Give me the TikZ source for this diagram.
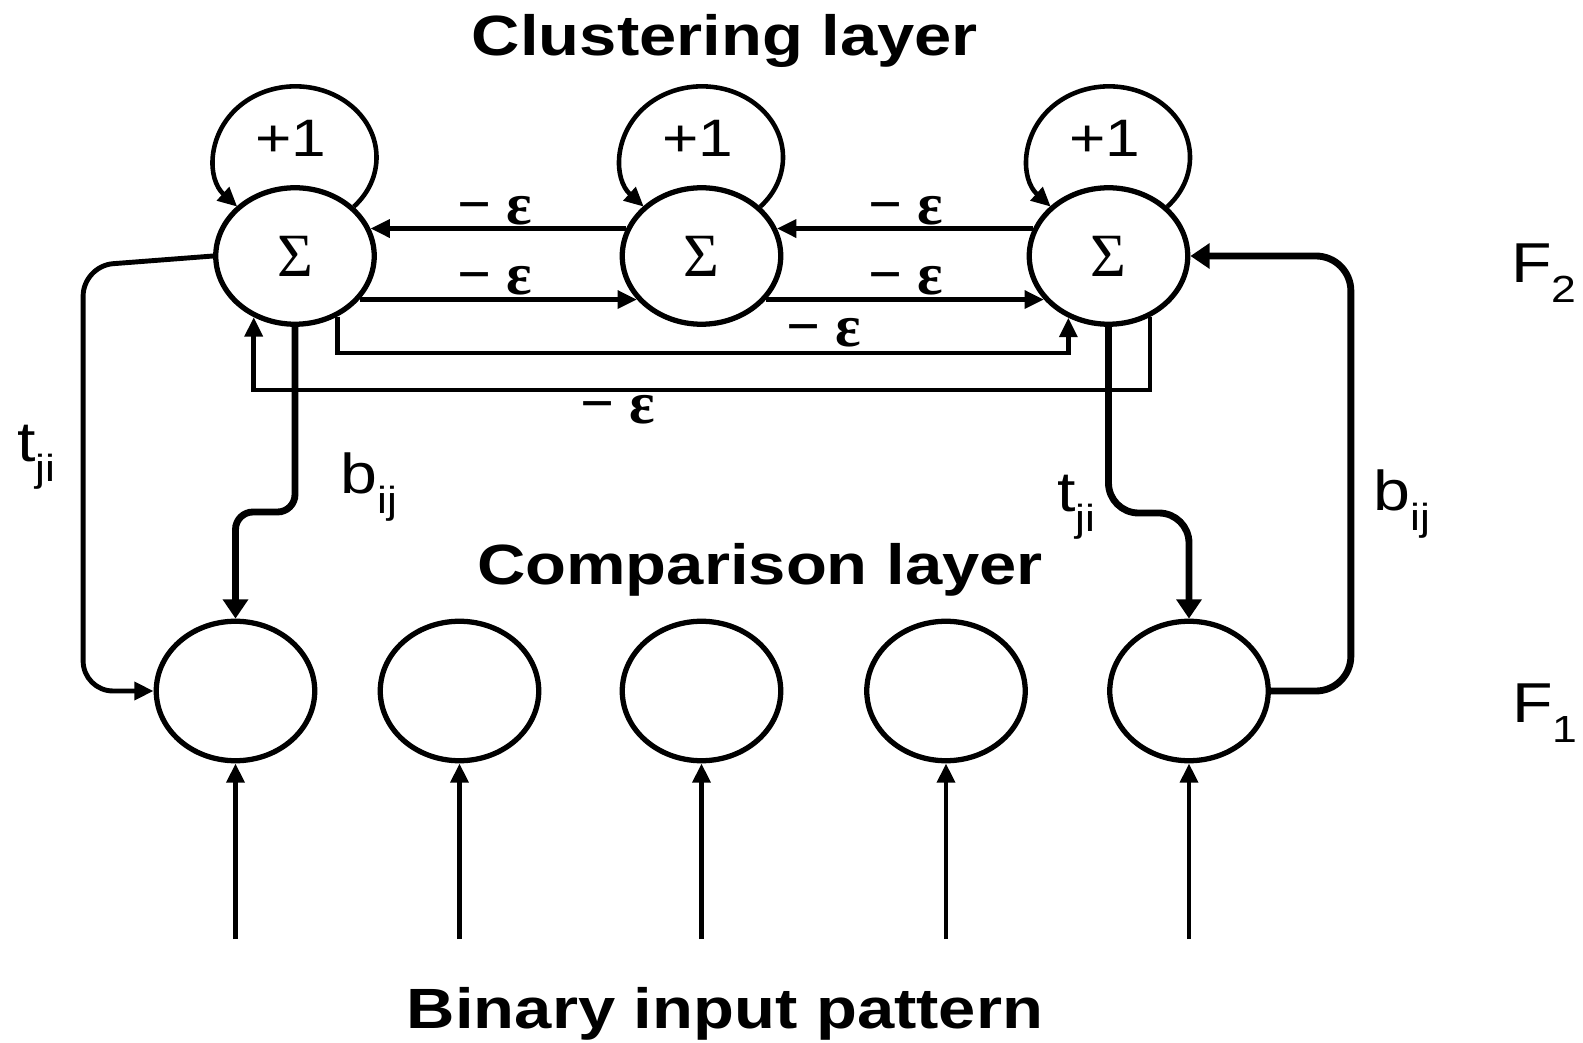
\documentclass[tikz,border=0pt]{standalone}
\usepackage{fontspec}
\setmainfont{Liberation Sans}
\newfontfamily\serifgreek{Liberation Serif}
\usetikzlibrary{arrows.meta,shapes.geometric}

\tikzset{every picture/.style={x=0.02cm,y=-0.02cm,line width=2.6pt}}
\tikzset{unit node/.style={ellipse,draw,line width=3pt,minimum width=3.17cm,minimum height=2.73cm,inner sep=0pt}}
\tikzset{sum node/.style={unit node,font=\serifgreek\fontsize{35}{40}\selectfont}}
\tikzset{thin arrow/.style={-{Triangle[length=11pt,width=10pt]}}}
\tikzset{thick arrow/.style={-{Triangle[length=11pt,width=14pt]},line width=3.9pt}}
\tikzset{layer title/.style={font=\fontsize{32.3}{38}\selectfont\bfseries,inner sep=0pt,anchor=base}}
\tikzset{weight text/.style={font=\fontsize{32}{38}\selectfont,inner sep=0pt,anchor=base west}}
\tikzset{plus text/.style={font=\fontsize{30}{34}\selectfont,inner sep=0pt,anchor=base}}
\tikzset{eps text/.style={font=\serifgreek\fontsize{34}{40}\selectfont\bfseries,inner sep=0pt}}
\newcommand{\wide}[1]{\scalebox{1.18}[1]{#1}}
\newcommand{\lowidx}[1]{\raisebox{-0.35em}{\fontsize{21.5}{24}\selectfont #1}}
\newcommand{\negeps}{− ε}

\begin{document}
\begin{tikzpicture}
\useasboundingbox (0,0) rectangle (1583,1043);
% F2, clustering layer
\node[sum node] (cl1) at (295,256) {Σ};
\node[sum node] (cl2) at (701.5,256) {Σ};
\node[sum node] (cl3) at (1108.5,256) {Σ};
% F1, comparison layer
\node[unit node,minimum height=2.79cm] (cp1) at (235.5,691) {};
\node[unit node,minimum height=2.79cm] (cp2) at (459.5,691) {};
\node[unit node,minimum height=2.79cm] (cp3) at (701.5,691) {};
\node[unit node,minimum height=2.79cm] (cp4) at (946,691) {};
\node[unit node,minimum height=2.79cm] (cp5) at (1189,691) {};
\coordinate (src) at (0,939);

% self excitation
\draw[thin arrow] (cl1.40) arc[start angle=44,end angle=-224,x radius=81,y radius=71];
\draw[thin arrow] (cl2.40) arc[start angle=44,end angle=-224,x radius=81,y radius=71];
\draw[thin arrow] (cl3.40) arc[start angle=44,end angle=-224,x radius=81,y radius=71];
\node[plus text] (pl1) at ([shift={(-4,-99)}]cl1.center) {\wide{+1}};
\node[plus text] (pl2) at ([shift={(-4,-99)}]cl2.center) {\wide{+1}};
\node[plus text] (pl3) at ([shift={(-4,-99)}]cl3.center) {\wide{+1}};

% lateral inhibition
\draw[thin arrow] (cl2.160) -- (cl1.20);
\draw[thin arrow] (cl1.-34) -- (cl2.214);
\draw[thin arrow] (cl3.160) -- (cl2.20);
\draw[thin arrow] (cl2.-34) -- (cl3.214);
\draw[thin arrow] (cl1.-55) -- (cl1.-55 |- 0,353) -| (cl3.-123);
\draw[thin arrow] (cl3.-56) -- (cl3.-56 |- 0,390) -| (cl1.-124);
\node[eps text] (e1) at (495,211) {\negeps};
\node[eps text] (e2) at (495,281) {\negeps};
\node[eps text] (e3) at (906,211) {\negeps};
\node[eps text] (e4) at (906,281) {\negeps};
\node[eps text] (e5) at (824,333) {\negeps};
\node[eps text] (e6) at (618,410) {\negeps};

% weights between the layers
\draw[thin arrow,line width=2.8pt,rounded corners=0.6cm] (cl1.west) -- ++(-130,10) |- (cp1.west);
\draw[thick arrow,rounded corners=0.35cm] (cl1.south) -- (cl1.south |- 0,512) -| (cp1.north);
\draw[thick arrow,rounded corners=0.6cm] (cl3.south) -- (cl3.south |- 0,513) -| (cp5.north);
\draw[thick arrow,rounded corners=0.7cm] (cp5.east) -- ++(80,0) |- (cl3.east);
\node[weight text] (t1) at (15,462) {\wide{t\lowidx{ji}}};
\node[weight text] (b1) at (338,494) {\wide{b\lowidx{ij}}};
\node[weight text] (t2) at (1055,512) {\wide{t\lowidx{ji}}};
\node[weight text] (b2) at (1371,511) {\wide{b\lowidx{ij}}};
\node[weight text] (f2) at (1509,283) {\wide{F\lowidx{2}}};
\node[weight text] (f1) at (1510,723) {\wide{F\lowidx{1}}};

% input
\draw[thin arrow] (cp1.south |- src) -- (cp1.south);
\draw[thin arrow] (cp2.south |- src) -- (cp2.south);
\draw[thin arrow] (cp3.south |- src) -- (cp3.south);
\draw[thin arrow] (cp4.south |- src) -- (cp4.south);
\draw[thin arrow] (cp5.south |- src) -- (cp5.south);

\node[layer title] (top) at (725,56) {\wide{Clustering layer}};
\node[layer title] (mid) at (760,585) {\wide{Comparison layer}};
\node[layer title] (bottom) at (725,1028) {\wide{Binary input pattern}};
\end{tikzpicture}
\end{document}
